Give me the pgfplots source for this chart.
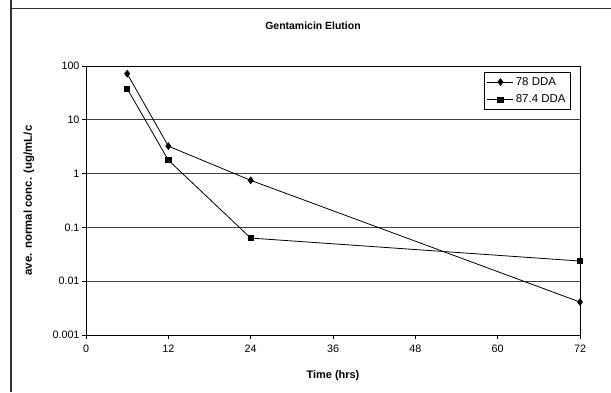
\documentclass[border=0pt]{standalone}
\usepackage{pgfplots}
\pgfplotsset{compat=1.18}
\usepackage{fontspec}
\setmainfont{Liberation Sans}
\begin{document}
\begin{tikzpicture}[x=1bp,y=1bp]
\useasboundingbox (0,0) rectangle (611,392);
\draw[line width=1.3bp, black!80] (11,392) -- (11,383.5) -- (611,383.5);
\draw[line width=1.3bp, black!80] (11,0) -- (11,383.5);
\node[font=\fontsize{10.5}{12}\selectfont\bfseries] at (313,366) {Gentamicin Elution};
\begin{axis}[
  at={(86bp,57bp)}, anchor=south west,
  scale only axis, width=494bp, height=269bp,
  ymode=log, log basis y=10,
  xmin=0, xmax=72, ymin=0.001, ymax=100,
  xtick={0,12,24,36,48,60,72},
  ytick={0.001,0.01,0.1,1,10,100},
  yticklabels={0.001,0.01,0.1,1,10,100},
  minor ytick={}, yminorticks=false,
  ymajorgrids, grid style={black!75, line width=0.8bp},
  axis line style={black, line width=0.8bp},
  tick style={black, line width=0.8bp},
  tick align=outside, major tick length=4bp,
  xtick pos=bottom, ytick pos=left,
  /pgf/number format/assume math mode=true,
  tick label style={font=\fontsize{10.8}{12}\selectfont},
  yticklabel style={xshift=1bp},
  xticklabel style={yshift=-2bp},
  xlabel={Time (hrs)},
  ylabel={ave. normal conc. (ug/mL/c},
  every axis x label/.style={font=\fontsize{11}{12}\selectfont\bfseries,
    at={(axis description cs:0.5,-0.1524)}, anchor=center},
  every axis y label/.style={font=\fontsize{11.5}{12}\selectfont\bfseries,
    at={(axis description cs:-0.1154,0.5)}, anchor=center, rotate=90},
  legend style={at={(0.805,0.978)}, anchor=north west, font=\fontsize{11.5}{12}\selectfont,
    draw=black, line width=0.8bp, inner sep=3bp, row sep=4bp, legend cell align=left},
  legend image code/.code={
    \draw[#1, line width=0.8bp] (0bp,0bp) -- (26bp,0bp);
    \draw[#1, line width=0.8bp] plot coordinates {(13bp,0bp)};
  },
]
\addplot[black, line width=0.8bp, mark=diamond*, mark size=3.3bp, mark options={solid, fill=black}]
  coordinates {(6,72) (12,3.24) (24,0.75) (72,0.0041)};
\addlegendentry{78 DDA}
\addplot[black, line width=0.8bp, mark=square*, mark size=2.6bp, mark options={solid, fill=black}]
  coordinates {(6,38) (12,1.78) (24,0.0634) (72,0.0237)};
\addlegendentry{87.4 DDA}
\end{axis}
\end{tikzpicture}
\end{document}
